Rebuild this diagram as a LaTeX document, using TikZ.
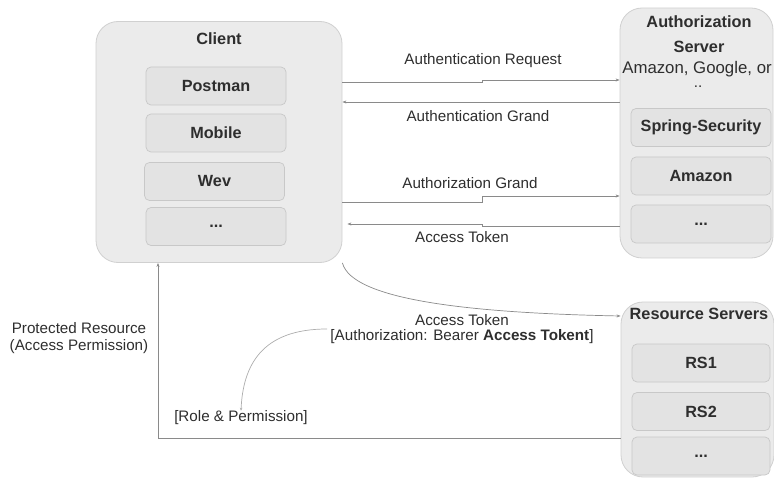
\documentclass[tikz,border=0pt]{standalone}
\usepackage{fontspec}
\setmainfont{Liberation Sans}
\usetikzlibrary{arrows.meta}
\definecolor{boxfill}{HTML}{EBEBEB}
\definecolor{boxdraw}{HTML}{D0D0D0}
\definecolor{innerfill}{HTML}{E3E3E3}
\definecolor{innerdraw}{HTML}{C8C8C8}
\definecolor{linegray}{HTML}{8A8A8A}
\definecolor{txt}{HTML}{2E2E2E}
\begin{document}
\begin{tikzpicture}[x=1pt,y=-1pt,
  outer/.style={draw=boxdraw, fill=boxfill, rounded corners=22pt, line width=0.8pt, inner sep=0pt},
  innerbox/.style={draw=innerdraw, fill=innerfill, rounded corners=5pt, line width=0.7pt, inner sep=0pt,
     minimum width=140pt, minimum height=38pt, font=\fontsize{16.2}{19}\selectfont\bfseries, text=txt},
  titletext/.style={inner sep=0pt, font=\fontsize{16.3}{19}\selectfont\bfseries, text=txt},
  lbl/.style={inner sep=0pt, font=\fontsize{15.2}{18}\selectfont, text=txt, align=center},
  conn/.style={draw=linegray, line width=0.7pt, -{Stealth[length=4pt,width=3pt]}},
  plain/.style={draw=linegray!70, line width=0.7pt, -{Stealth[length=3pt,width=2.5pt]}}
]
\useasboundingbox (0,0) rectangle (774,481);

% Client
\node[outer, minimum width=246pt, minimum height=241pt] (client) at (219,142) {};
\node[titletext] (clienttitle) at (219,39) {Client};
\node[innerbox] (postman) at (216,86) {Postman};
\node[innerbox] (mobile) at (216,133) {Mobile};
\node[innerbox] (wev) at (214.5,181.5) {Wev};
\node[innerbox] (cdots) at (216,226.5) {...};

% Authorization server
\node[outer, minimum width=153pt, minimum height=250pt] (auth) at (696.5,133) {};
\node[titletext] (authtitle1) at (699,22) {Authorization};
\node[titletext] (authtitle2) at (699,47) {Server};
\node[lbl, font=\fontsize{16.8}{19}\selectfont] (authsub) at (697,69) {Amazon, Google, or};
\node[lbl] (authdots) at (698,87) {..};
\node[innerbox] (spring) at (701,127.5) {Spring-Security};
\node[innerbox] (amazon) at (701,176) {Amazon};
\node[innerbox] (adots) at (701,224) {...};

% Resource servers
\node[outer, minimum width=153pt, minimum height=175pt] (res) at (697.5,389.5) {};
\node[titletext] (restitle) at (699,314) {Resource Servers};
\node[innerbox, minimum width=138pt] (rs1) at (701,363) {RS1};
\node[innerbox, minimum width=138pt] (rs2) at (701,411.5) {RS2};
\node[innerbox, minimum width=138pt] (rdots) at (701,456) {...};

% labels
\node[lbl] (l1) at (483,61) {Authentication Request};
\node[lbl] (l2) at (478,116) {Authentication Grand};
\node[lbl] (l3) at (470,183) {Authorization Grand};
\node[lbl] (l4) at (462,237) {Access Token};
\node[lbl] (l5) at (462,320) {Access Token};
\node[lbl] (l6) at (462,337) {[Authorization: Bearer \textbf{Access Tokent}]};
\node[lbl] (prot) at (79,338) {Protected Resource\\[-1pt](Access Permission)};
\node[lbl] (role) at (241,418) {[Role \& Permission]};

% coordinates
\coordinate (ya) at (0,82);
\coordinate (yb) at (0,80);
\coordinate (yc) at (0,102);
\coordinate (yd) at (0,202);
\coordinate (ye) at (0,196);
\coordinate (yf) at (0,226);
\coordinate (yg) at (0,224);
\coordinate (yh) at (0,316);
\coordinate (pbend) at (158,438);
\coordinate (rstart) at (327,329);

% connectors
\draw[conn] (client.east |- ya) -- (482,82) -- (482,80) -- (auth.west |- yb);
\draw[conn] (auth.west |- yc) -- (client.east |- yc);
\draw[conn] (client.east |- yd) -- (482,202) -- (482,196) -- (auth.west |- ye);
\draw[conn] (auth.west |- yf) -- (482,226) -- (482,224) -- ([xshift=5pt]client.east |- yg);
\draw[conn] (client.south east) .. controls (352,300) and (470,313) .. (res.west |- yh);
\draw[conn] (res.west |- pbend) -- (pbend) -- (pbend |- client.south);
\draw[plain] (rstart) .. controls (262,329) and (243,365) .. (role.north);
\end{tikzpicture}
\end{document}
